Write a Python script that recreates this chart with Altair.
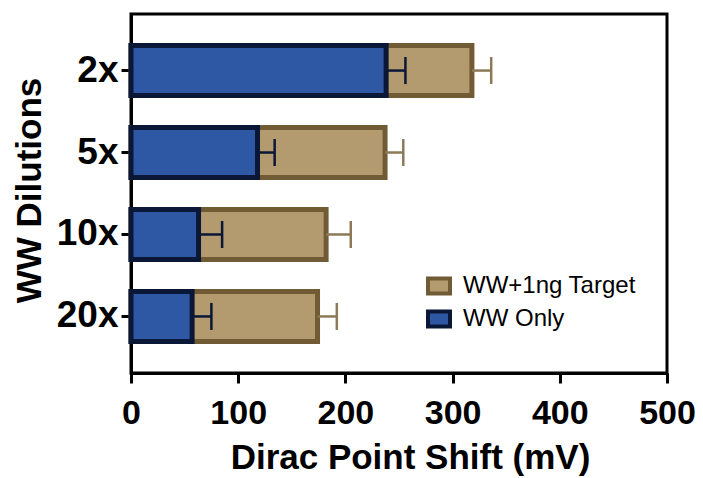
import altair as alt
import pandas as pd

dilutions = ["2x", "5x", "10x", "20x"]
series_names = ["WW+1ng Target", "WW Only"]
target_vals = [318, 237, 182, 174]
target_err = [18, 17, 23, 18]
only_vals = [238, 118, 63, 57]
only_err = [18, 16, 22, 18]
x_ticks = [0, 100, 200, 300, 400, 500]

rows = []
for i, d in enumerate(dilutions):
    rows.append({"dil": d, "series": series_names[0], "ord": 0,
                 "value": target_vals[i], "hi": target_vals[i] + target_err[i]})
for i, d in enumerate(dilutions):
    rows.append({"dil": d, "series": series_names[1], "ord": 1,
                 "value": only_vals[i], "hi": only_vals[i] + only_err[i]})
df = pd.DataFrame(rows)

FONT = "Liberation Sans"
fill_scale = alt.Scale(domain=series_names, range=["#B49B6F", "#2E58A4"])
stroke_scale = alt.Scale(domain=series_names, range=["#715B34", "#0B1737"])

y_enc = alt.Y("dil:N", sort=dilutions,
              scale=alt.Scale(paddingInner=0.39, paddingOuter=0.385),
              axis=alt.Axis(title="WW Dilutions", titleFontSize=35, titleX=-91,
                            titleY=176, titleBaseline="alphabetic",
                            titleAngle=-90, labelPadding=3,
                            labelFontSize=37))
x_enc = alt.X("value:Q", stack=None, scale=alt.Scale(domain=[0, 500], nice=False),
              axis=alt.Axis(title="Dirac Point Shift (mV)", values=x_ticks,
                            titleFontSize=35, titleX=279, titleY=95,
                            titleBaseline="alphabetic", labelBaseline="alphabetic",
                            labelPadding=40, labelFontSize=34, labelFlush=False,
                            labelOverlap=False))

bars = alt.Chart(df).mark_bar(strokeWidth=5).encode(
    y=y_enc,
    x=x_enc,
    fill=alt.Fill("series:N", scale=fill_scale, title=None),
    stroke=alt.Stroke("series:N", scale=stroke_scale, title=None),
    order=alt.Order("ord:Q"),
)

def err_layers(name, color):
    base = alt.Chart(df).transform_filter(alt.datum.series == name)
    rule = base.mark_rule(color=color, strokeWidth=2.5).encode(
        y=alt.Y("dil:N", sort=dilutions),
        x=alt.X("value:Q"),
        x2="hi:Q",
    )
    cap = base.mark_tick(color=color, thickness=2.5, size=27, opacity=1).encode(
        y=alt.Y("dil:N", sort=dilutions),
        x=alt.X("hi:Q"),
    )
    return [rule, cap]

layers = [bars] + err_layers(series_names[0], "#8C7A57") + err_layers(series_names[1], "#0B1737")

chart = alt.layer(*layers).properties(
    width=536, height=359,
    autosize=alt.AutoSizeParams(type="none"),
    padding={"left": 123, "top": 6, "right": 28, "bottom": 104},
).configure_view(
    stroke="black", strokeWidth=3
).configure_axis(
    labelFont=FONT, titleFont=FONT, labelFontWeight="bold", titleFontWeight="bold",
    labelColor="black", titleColor="black", domainColor="black", domainWidth=3,
    tickColor="black", tickWidth=3, tickSize=10, grid=False,
).configure_legend(
    orient="none", legendX=296, legendY=260, padding=0,
    labelFont=FONT, labelFontSize=24, labelColor="black", labelFontWeight="normal",
    labelLimit=400,
    symbolType="M-1.1,-0.75H1.1V0.75H-1.1Z", symbolSize=400, symbolStrokeWidth=4,
    rowPadding=1, labelOffset=12,
)

chart.save("out.html", embed_options={"renderer": "svg", "actions": False})
